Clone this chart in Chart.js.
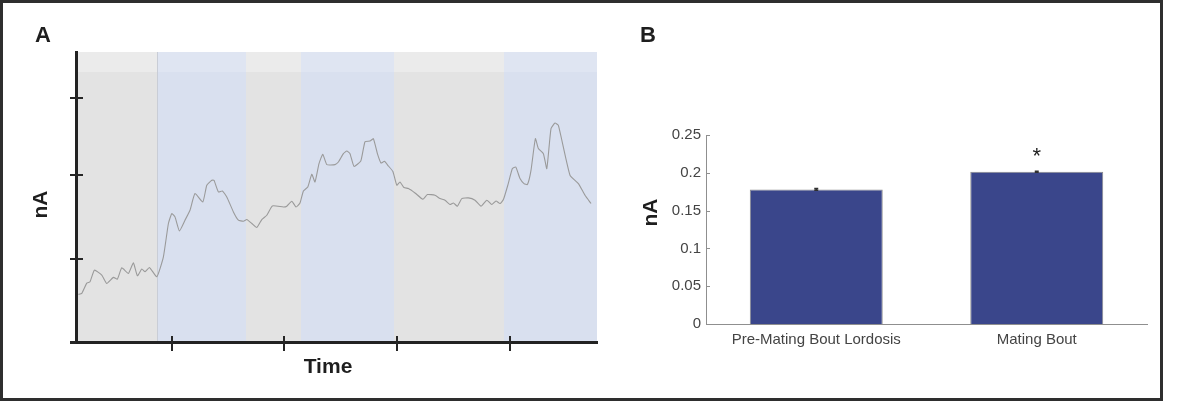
<!DOCTYPE html>
<html>
<head>
<meta charset="utf-8">
<script src="https://cdn.jsdelivr.net/npm/chart.js@4.4.1/dist/chart.umd.min.js"></script>
<style>
  html, body { margin: 0; padding: 0; background: #fff; }
  body { width: 1200px; height: 402px; position: relative; overflow: hidden; font-family: "Liberation Sans", Arial, Helvetica, sans-serif; }
  .frame { position: absolute; left: 0; top: 0; width: 1163px; height: 401px; box-sizing: border-box; border: 3px solid #2e2e2e; }
  canvas { position: absolute; top: 0; }
  #chartA { left: 0; }
  #chartB { left: 600px; }
  .lbl { position: absolute; font-weight: bold; color: #1e1e1e; line-height: 1; white-space: nowrap; }
  .panel { font-size: 22px; }
  .axis { font-size: 21px; text-align: center; width: 80px; height: 21px; }
</style>
</head>
<body>
<div class="frame"></div>
<canvas id="chartA" width="620" height="402"></canvas>
<canvas id="chartB" width="560" height="402"></canvas>
<div class="lbl panel" style="left:35px;top:24px">A</div>
<div class="lbl panel" style="left:640px;top:24px">B</div>
<div class="lbl axis" style="left:-1.5px;top:193.5px;transform:rotate(-90deg)">nA</div>
<div class="lbl axis" style="left:288px;top:355px">Time</div>
<div class="lbl axis" style="left:608.5px;top:202px;transform:rotate(-90deg)">nA</div>

<script>
// Panel A - example trace (time in s, current in nA)
const traceTime = [1.2, 2.9, 5.4, 7, 9.2, 12.9, 15.4, 18.7, 20.7, 22.9,
    26.2, 28.7, 30.7, 32.9, 34.5, 36.7, 40.4, 43.7, 46.2, 47.9,
    49.5, 51.7, 54.5, 57, 59.5, 63.4, 65.4, 67.9, 69, 71.2,
    73.2, 75.4, 78.7, 81.2, 83.7, 85.4, 87.9, 90.4, 92.9, 95.4,
    98.2, 103.7, 105.4, 107.9, 110, 112, 113.7, 115.9, 117.9, 119.5,
    121.5, 123.4, 125.4, 129.5, 131.2, 133.7, 135.4, 137, 139, 142.4,
    144.5, 147, 148.7, 150.7, 152.5, 154.2, 156.2, 158.4, 160.4, 162,
    164, 166.2, 169.5, 173.4, 175.7, 179.5, 182, 184.5, 187, 188.7,
    190.7, 192.9, 196.2, 199.5, 202.5, 205.4, 207.9, 210, 212, 213.7,
    215.9, 218.2, 219.9, 222, 224, 225.7, 227.5, 229.7, 231.2, 233.7,
    235.4, 237.5, 239.5, 241.2, 247, 251.2, 254.5, 257.5];
const traceCurrent = [0.0575, 0.0587, 0.0711, 0.0727, 0.0867, 0.0807, 0.0707, 0.078, 0.0759, 0.0895,
    0.0828, 0.0955, 0.0799, 0.088, 0.0847, 0.09, 0.0787, 0.1028, 0.143, 0.155,
    0.151, 0.1341, 0.147, 0.159, 0.1792, 0.169, 0.1892, 0.1952, 0.1952, 0.1811,
    0.1823, 0.1751, 0.157, 0.147, 0.1458, 0.1478, 0.143, 0.1382, 0.1478, 0.153,
    0.1642, 0.163, 0.1639, 0.1699, 0.163, 0.1678, 0.1823, 0.1871, 0.2024, 0.1931,
    0.2153, 0.2265, 0.2141, 0.2141, 0.2172, 0.2273, 0.2305, 0.2273, 0.212, 0.2184,
    0.2418, 0.2425, 0.2454, 0.2273, 0.216, 0.2181, 0.2124, 0.206, 0.1892, 0.1931,
    0.1864, 0.1852, 0.1799, 0.1723, 0.178, 0.1771, 0.1731, 0.1711, 0.1659, 0.1678,
    0.1639, 0.1731, 0.1739, 0.1711, 0.1639, 0.1711, 0.1659, 0.1702, 0.1671, 0.1719,
    0.1892, 0.2093, 0.2112, 0.1972, 0.1912, 0.19, 0.2072, 0.2454, 0.2334, 0.2273,
    0.2093, 0.2575, 0.2642, 0.2614, 0.2012, 0.1912, 0.1771, 0.1671];
const epochEdges = [0, 40.5, 85, 112.5, 159, 214, 260.5];
const epochKinds = ['pre', 'mating', 'pre', 'mating', 'pre', 'mating'];
const timeTicks = [48, 104, 160.5, 217];
const currentTicks = [0.1, 0.202, 0.295];

// Panel B - mean current per condition
const categories = ['Pre-Mating Bout Lordosis', 'Mating Bout'];
const meanCurrent = [0.178, 0.2015];
const semCurrent = [0.0012, 0.0007];
const significance = ['', '*'];
const barTicks = [0, 0.05, 0.1, 0.15, 0.2, 0.25];

const fontFamily = '"Liberation Sans", Arial, Helvetica, sans-serif';
const epochColors = {
    pre: ['#e3e3e3', '#ebebeb'],
    mating: ['#d9e0ef', '#dfe5f2']
};

const epochShading = {
    id: 'epochShading',
    beforeDraw(chart) {
        const { ctx, chartArea, scales: { x } } = chart;
        const h = chartArea.bottom - chartArea.top;
        const band = Math.round(h * 0.07);
        ctx.save();
        for (let i = 0; i < epochKinds.length; i++) {
            const x0 = Math.round(x.getPixelForValue(epochEdges[i]));
            const x1 = Math.round(x.getPixelForValue(epochEdges[i + 1]));
            const [lower, upper] = epochColors[epochKinds[i]];
            ctx.fillStyle = lower;
            ctx.fillRect(x0, chartArea.top, x1 - x0, h);
            ctx.fillStyle = upper;
            ctx.fillRect(x0, chartArea.top, x1 - x0, band);
        }
        // faint edge where the first mating bout starts
        const edge = Math.round(x.getPixelForValue(epochEdges[1])) + 0.5;
        ctx.strokeStyle = '#c9cdd6';
        ctx.lineWidth = 1;
        ctx.beginPath();
        ctx.moveTo(edge, chartArea.top);
        ctx.lineTo(edge, chartArea.bottom);
        ctx.stroke();
        ctx.restore();
    }
};

const crossTicks = {
    id: 'crossTicks',
    afterDraw(chart) {
        const { ctx, chartArea, scales: { x, y } } = chart;
        ctx.save();
        ctx.strokeStyle = '#262626';
        ctx.lineWidth = 2;
        ctx.beginPath();
        timeTicks.forEach(t => {
            const px = Math.round(x.getPixelForValue(t));
            ctx.moveTo(px, chartArea.bottom - 6);
            ctx.lineTo(px, chartArea.bottom + 9);
        });
        currentTicks.forEach(v => {
            const py = Math.round(y.getPixelForValue(v));
            ctx.moveTo(chartArea.left - 6, py);
            ctx.lineTo(chartArea.left + 7, py);
        });
        ctx.stroke();
        // x axis runs a little past the y axis
        ctx.lineWidth = 3;
        ctx.beginPath();
        ctx.moveTo(chartArea.left - 6, chartArea.bottom + 0.5);
        ctx.lineTo(chartArea.left, chartArea.bottom + 0.5);
        ctx.stroke();
        ctx.restore();
    }
};

const barExtras = {
    id: 'barExtras',
    afterDatasetsDraw(chart) {
        const { ctx, chartArea, scales: { y } } = chart;
        const bars = chart.getDatasetMeta(0).data;
        ctx.save();
        // inward tick marks
        ctx.strokeStyle = '#8f8f8f';
        ctx.lineWidth = 1;
        ctx.beginPath();
        barTicks.forEach(v => {
            const py = Math.round(y.getPixelForValue(v)) + 0.5;
            ctx.moveTo(chartArea.left, py);
            ctx.lineTo(chartArea.left + 4, py);
        });
        ctx.stroke();
        // error bars
        ctx.strokeStyle = '#303030';
        ctx.lineWidth = 1.5;
        bars.forEach((bar, i) => {
            const hi = y.getPixelForValue(meanCurrent[i] + semCurrent[i]);
            const lo = y.getPixelForValue(meanCurrent[i] - semCurrent[i]);
            ctx.beginPath();
            ctx.moveTo(bar.x, hi); ctx.lineTo(bar.x, lo);
            ctx.moveTo(bar.x - 2, hi); ctx.lineTo(bar.x + 2, hi);
            ctx.moveTo(bar.x - 2, lo); ctx.lineTo(bar.x + 2, lo);
            ctx.stroke();
        });
        // significance marks
        ctx.fillStyle = '#1e1e1e';
        ctx.font = '22px ' + fontFamily;
        ctx.textAlign = 'center';
        ctx.textBaseline = 'alphabetic';
        bars.forEach((bar, i) => {
            if (significance[i]) ctx.fillText(significance[i], bar.x, bar.y - 9);
        });
        ctx.restore();
    }
};

new Chart(document.getElementById('chartA'), {
    type: 'line',
    data: {
        datasets: [{
            data: traceTime.map((t, i) => ({ x: t, y: traceCurrent[i] })),
            borderColor: '#9a9a9a',
            borderWidth: 1.1,
            pointRadius: 0,
            tension: 0.15
        }]
    },
    options: {
        responsive: false,
        animation: false,
        layout: { padding: { left: 0, right: 23, top: 52, bottom: 0 } },
        plugins: { legend: { display: false }, tooltip: { enabled: false } },
        scales: {
            x: {
                type: 'linear', min: 0, max: 260.5,
                grid: { display: false, drawTicks: false },
                border: { display: true, color: '#222', width: 3 },
                ticks: { display: false },
                afterFit(s) { s.height = 60; }
            },
            y: {
                min: 0, max: 0.35,
                grid: { display: false, drawTicks: false },
                border: { display: true, color: '#222', width: 3 },
                ticks: { display: false },
                afterFit(s) { s.width = 76; }
            }
        }
    },
    plugins: [epochShading, crossTicks]
});

new Chart(document.getElementById('chartB'), {
    type: 'bar',
    data: {
        labels: categories,
        datasets: [{
            data: meanCurrent,
            backgroundColor: '#3a468b',
            borderColor: '#8a8a8a',
            borderWidth: 1,
            categoryPercentage: 1,
            barPercentage: 0.603
        }]
    },
    options: {
        responsive: false,
        animation: false,
        layout: { padding: { left: 36, right: 13, top: 135, bottom: 0 } },
        plugins: { legend: { display: false }, tooltip: { enabled: false } },
        scales: {
            x: {
                grid: { display: false, drawTicks: false },
                border: { display: true, color: '#8f8f8f', width: 1 },
                ticks: { color: '#444', font: { size: 15, family: fontFamily }, padding: 7 },
                afterFit(s) { s.height = 78; }
            },
            y: {
                min: 0, max: 0.25,
                afterBuildTicks(s) { s.ticks = barTicks.map(v => ({ value: v })); },
                grid: { display: false, drawTicks: false },
                border: { display: true, color: '#8f8f8f', width: 1 },
                ticks: { color: '#444', font: { size: 15, family: fontFamily }, padding: 5, callback: v => String(v) },
                afterFit(s) { s.width = 70; }
            }
        }
    },
    plugins: [barExtras]
});
</script>
</body>
</html>
